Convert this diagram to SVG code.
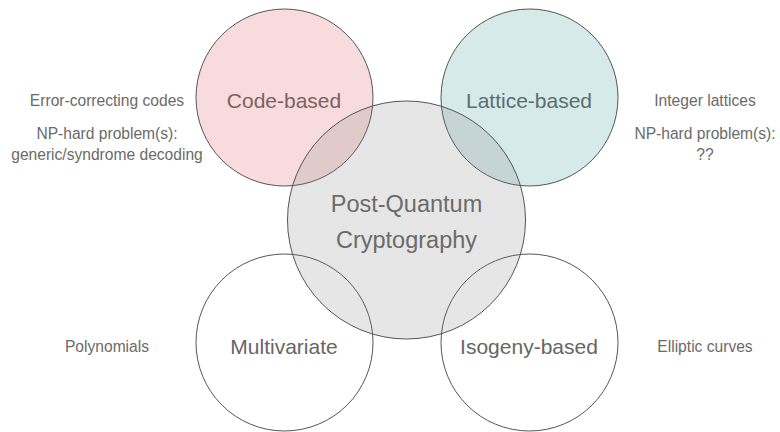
<svg xmlns="http://www.w3.org/2000/svg" width="780" height="432" viewBox="0 0 780 432">
  <style>
    .ring { stroke: #555; stroke-width: 1; }
    .name { font-family: "Liberation Sans", Arial, sans-serif; font-size: 21px; text-anchor: middle; fill: #666; }
    .core { font-family: "Liberation Sans", Arial, sans-serif; font-size: 23.5px; text-anchor: middle; fill: #666; }
    .note { font-family: "Liberation Sans", Arial, sans-serif; font-size: 15.6px; text-anchor: middle; fill: #6a6a6a; }
  </style>
  <rect width="780" height="432" fill="#fff"/>

  <!-- family labels sit under the tinted discs -->
  <g id="code-based">
    <text class="name" x="284" y="107.5">Code-based</text>
    <circle class="ring" cx="284.5" cy="97.5" r="88.5" fill="rgb(220,80,85)" fill-opacity="0.2"/>
  </g>
  <g id="lattice-based">
    <text class="name" x="529" y="107.5">Lattice-based</text>
    <circle class="ring" cx="529.5" cy="97.5" r="88.5" fill="rgb(50,150,150)" fill-opacity="0.2"/>
  </g>
  <g id="multivariate">
    <text class="name" x="284" y="353.5">Multivariate</text>
    <circle class="ring" cx="284.5" cy="342.5" r="88.5" fill="none"/>
  </g>
  <g id="isogeny-based">
    <text class="name" x="529" y="353.5">Isogeny-based</text>
    <circle class="ring" cx="529.5" cy="342.5" r="88.5" fill="none"/>
  </g>
  <g id="post-quantum">
    <text class="core" x="406.5" y="211.5">Post-Quantum</text>
    <text class="core" x="406.5" y="247.5">Cryptography</text>
    <circle class="ring" cx="406.5" cy="220" r="119" fill="rgb(128,128,128)" fill-opacity="0.2"/>
  </g>

  <!-- side notes -->
  <g id="notes">
    <text class="note" x="107" y="105.5">Error-correcting codes</text>
    <text class="note" x="107" y="139">NP-hard problem(s):</text>
    <text class="note" x="107" y="160">generic/syndrome decoding</text>
    <text class="note" x="705" y="105.5">Integer lattices</text>
    <text class="note" x="705" y="139">NP-hard problem(s):</text>
    <text class="note" x="705" y="160">??</text>
    <text class="note" x="107" y="351.5">Polynomials</text>
    <text class="note" x="705" y="351.5">Elliptic curves</text>
  </g>
</svg>
